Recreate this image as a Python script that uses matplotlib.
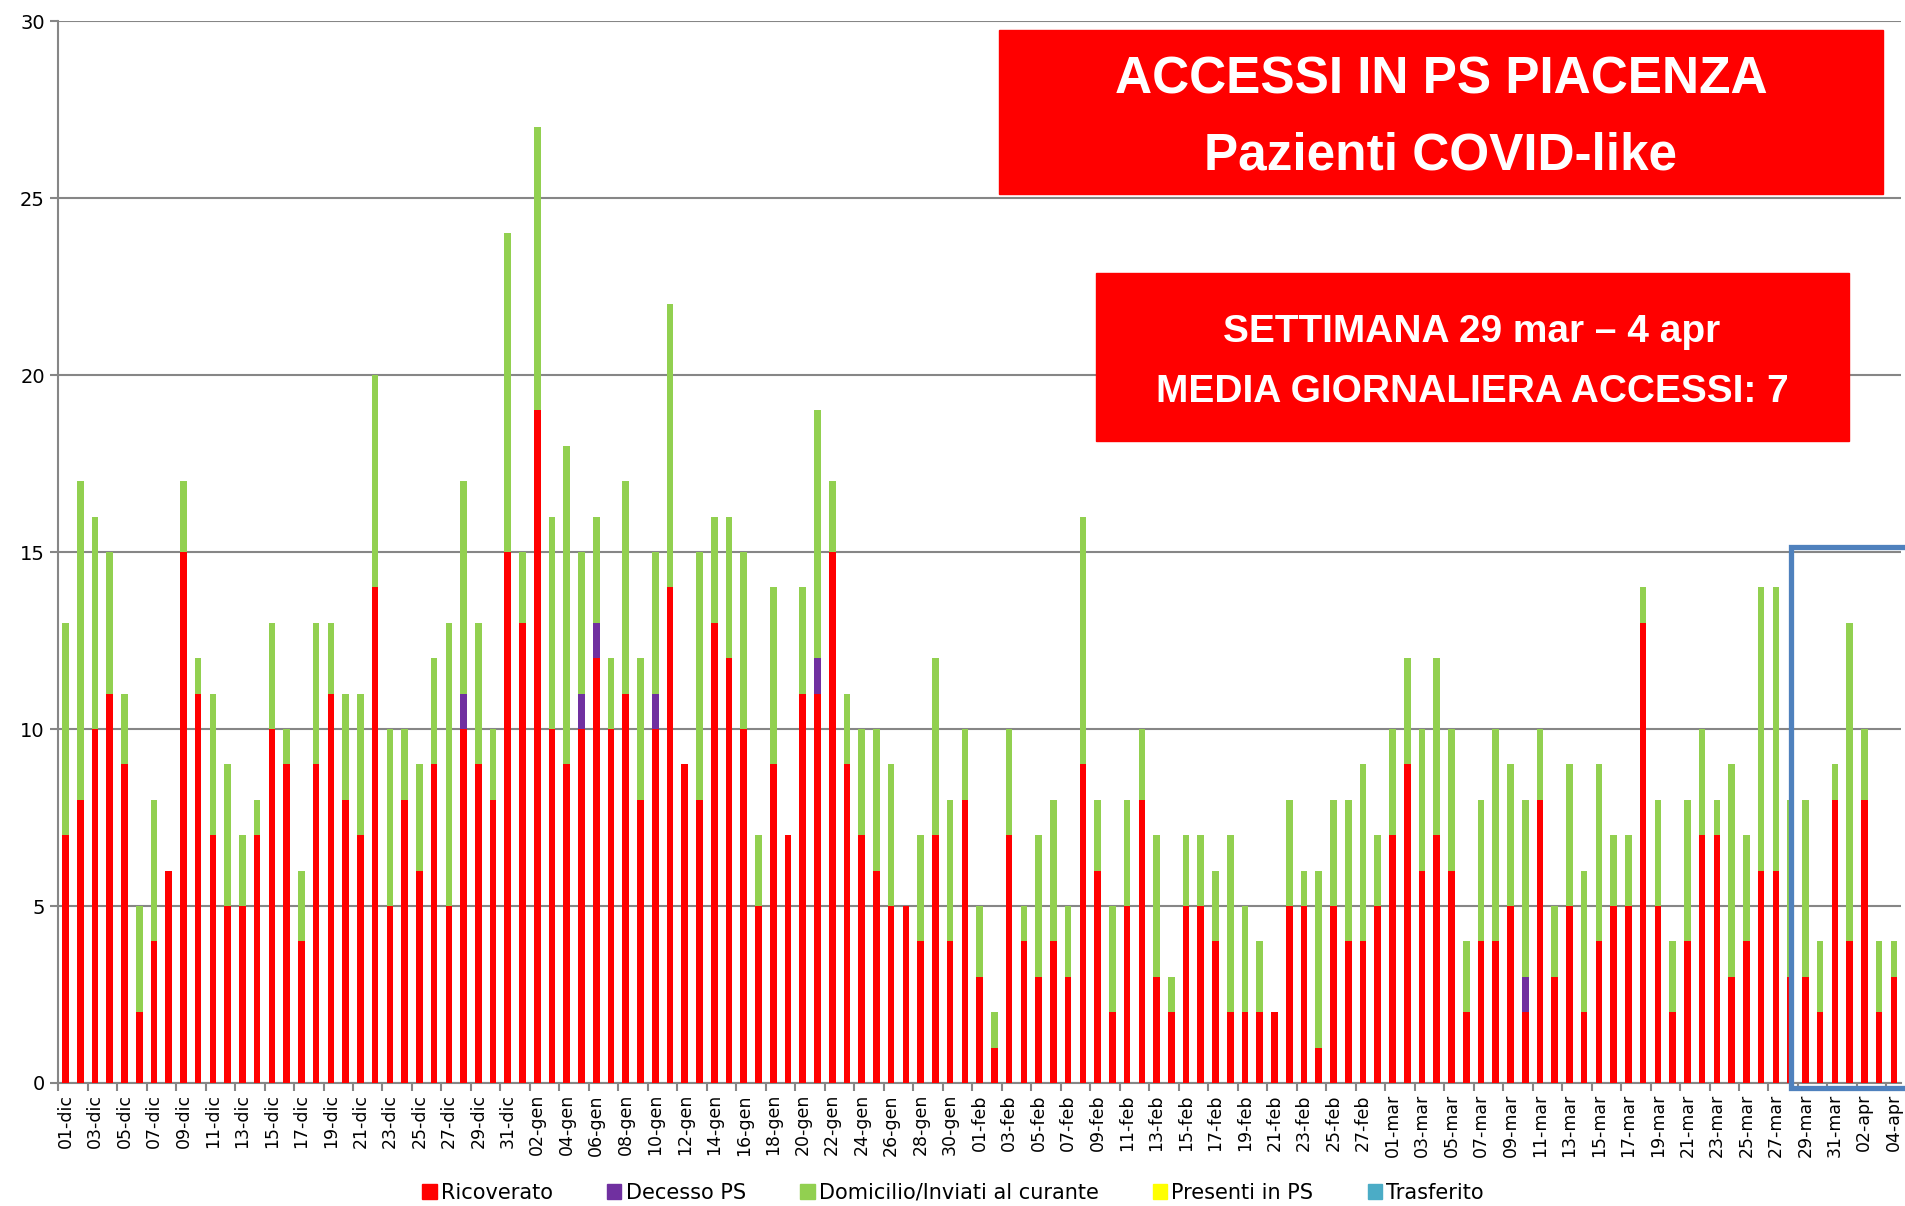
import numpy as np
import matplotlib.pyplot as plt
from matplotlib.patches import Patch

# days per month shown (dic 2020 -> 4 apr 2021)
mesi = ['dic', 'gen', 'feb', 'mar', 'apr']
giorni = [31, 31, 28, 31, 4]

ricoverato = [
    7, 8, 10, 11, 9, 2, 4, 6, 15, 11, 7, 5, 5, 7, 10, 9, 4, 9, 11, 8, 7, 14, 5, 8, 6, 9, 5, 10, 9, 8, 15,  # dic
    13, 19, 10, 9, 10, 12, 10, 11, 8, 10, 14, 9, 8, 13, 12, 10, 5, 9, 7, 11, 11, 15, 9, 7, 6, 5, 5, 4, 7, 4, 8,  # gen
    3, 1, 7, 4, 3, 4, 3, 9, 6, 2, 5, 8, 3, 2, 5, 5, 4, 2, 2, 2, 2, 5, 5, 1, 5, 4, 4, 5,  # feb
    7, 9, 6, 7, 6, 2, 4, 4, 5, 2, 8, 3, 5, 2, 4, 5, 5, 13, 5, 2, 4, 7, 7, 3, 4, 6, 6, 3, 3, 2, 8,  # mar
    4, 8, 2, 3,  # apr
]
decesso = [
    0, 0, 0, 0, 0, 0, 0, 0, 0, 0, 0, 0, 0, 0, 0, 0, 0, 0, 0, 0, 0, 0, 0, 0, 0, 0, 0, 1, 0, 0, 0,
    0, 0, 0, 0, 1, 1, 0, 0, 0, 1, 0, 0, 0, 0, 0, 0, 0, 0, 0, 0, 1, 0, 0, 0, 0, 0, 0, 0, 0, 0, 0,
    0, 0, 0, 0, 0, 0, 0, 0, 0, 0, 0, 0, 0, 0, 0, 0, 0, 0, 0, 0, 0, 0, 0, 0, 0, 0, 0, 0,
    0, 0, 0, 0, 0, 0, 0, 0, 0, 1, 0, 0, 0, 0, 0, 0, 0, 0, 0, 0, 0, 0, 0, 0, 0, 0, 0, 0, 0, 0, 0,
    0, 0, 0, 0,
]
domicilio = [
    6, 9, 6, 4, 2, 3, 4, 0, 2, 1, 4, 4, 2, 1, 3, 1, 2, 4, 2, 3, 4, 6, 5, 2, 3, 3, 8, 6, 4, 2, 9,
    2, 8, 6, 9, 4, 3, 2, 6, 4, 4, 8, 0, 7, 3, 4, 5, 2, 5, 0, 3, 7, 2, 2, 3, 4, 4, 0, 3, 5, 4, 2,
    2, 1, 3, 1, 4, 4, 2, 7, 2, 3, 3, 2, 4, 1, 2, 2, 2, 5, 3, 2, 0, 3, 1, 5, 3, 4, 5, 2,
    3, 3, 4, 5, 4, 2, 4, 6, 4, 5, 2, 2, 4, 4, 5, 2, 2, 1, 3, 2, 4, 3, 1, 6, 3, 8, 8, 5, 5, 2, 1,
    9, 2, 2, 1,
]
presenti = [0] * len(ricoverato)
trasferito = [0] * len(ricoverato)

etichette = [f'{d:02d}-{m}' for m, n in zip(mesi, giorni) for d in range(1, n + 1)]

col_ric = '#FF0000'
col_dec = '#7030A0'
col_dom = '#92D050'
col_pre = '#FFFF00'
col_tra = '#4BACC6'
grigio = '#868686'

fig = plt.figure(figsize=(19.05, 12.06), dpi=100)
ax = fig.add_axes([0.0305, 0.102, 0.9675, 0.8805])

x = np.arange(len(ricoverato))
ric = np.array(ricoverato)
dec = np.array(decesso)
dom = np.array(domicilio)
w = 0.45
ax.bar(x, ric, w, color=col_ric, zorder=3)
ax.bar(x, dec, w, bottom=ric, color=col_dec, zorder=3)
ax.bar(x, dom, w, bottom=ric + dec, color=col_dom, zorder=3)
ax.bar(x, presenti, w, bottom=ric + dec + dom, color=col_pre, zorder=3)
ax.bar(x, trasferito, w, bottom=ric + dec + dom, color=col_tra, zorder=3)

ax.set_xlim(-0.5, len(x) - 0.5)
ax.set_ylim(0, 30)
ax.set_yticks(range(0, 31, 5))
ax.yaxis.grid(True, color=grigio, linewidth=1.5, zorder=0)
ax.set_axisbelow(True)
for s in ['top', 'right']:
    ax.spines[s].set_visible(False)
for s in ['left', 'bottom']:
    ax.spines[s].set_color(grigio)
    ax.spines[s].set_linewidth(1.5)

ax.set_xticks(x[::2])
ax.set_xticklabels(etichette[::2], rotation=90, fontsize=12.5)
ax.set_xticks(np.arange(-0.5, len(x), 2), minor=True)
ax.tick_params(axis='x', which='major', length=0, pad=8)
ax.tick_params(axis='x', which='minor', length=6, color=grigio, width=1.5)
ax.tick_params(axis='y', labelsize=14, length=6, color=grigio, width=1.5)

# titolo e riquadro settimana
fig.patches.append(plt.Rectangle((999 / 1905, 1 - 194 / 1206), 884 / 1905, 164 / 1206,
                                 transform=fig.transFigure, color=col_ric, zorder=5))
fig.text(1441 / 1905, 1 - 80 / 1206, 'ACCESSI IN PS PIACENZA', color='white', fontsize=37,
         fontweight='bold', family='Liberation Sans', ha='center', va='center', zorder=6)
fig.text(1441 / 1905, 1 - 156 / 1206, 'Pazienti COVID-like', color='white', fontsize=37,
         fontweight='bold', family='Liberation Sans', ha='center', va='center', zorder=6)

fig.patches.append(plt.Rectangle((1096 / 1905, 1 - 441 / 1206), 753 / 1905, 168 / 1206,
                                 transform=fig.transFigure, color=col_ric, zorder=5))
fig.text(1472 / 1905, 1 - 332 / 1206, 'SETTIMANA 29 mar \u2013 4 apr', color='white', fontsize=28,
         fontweight='bold', family='Liberation Sans', ha='center', va='center', zorder=6)
fig.text(1472 / 1905, 1 - 392 / 1206, 'MEDIA GIORNALIERA ACCESSI: 7', color='white', fontsize=28,
         fontweight='bold', family='Liberation Sans', ha='center', va='center', zorder=6)

# riquadro blu ultima settimana
bx = [126.5, 117.05, 117.05, 126.5]
by = [15.15, 15.15, -0.15, -0.15]
ax.plot(bx, by, color='#4F81BD', linewidth=3.8, clip_on=False, zorder=7, solid_joinstyle='miter')

handles = [Patch(color=c) for c in [col_ric, col_dec, col_dom, col_pre, col_tra]]
nomi = ['Ricoverato', 'Decesso PS', 'Domicilio/Inviati al curante', 'Presenti in PS', 'Trasferito']
fig.legend(handles, nomi, loc='center', bbox_to_anchor=(953 / 1905, 1 - 1193 / 1206), ncol=5,
           frameon=False, fontsize=15, handlelength=0.7, handleheight=0.7, handletextpad=0.2,
           columnspacing=2.6)

fig.savefig('out.png', dpi=100)
